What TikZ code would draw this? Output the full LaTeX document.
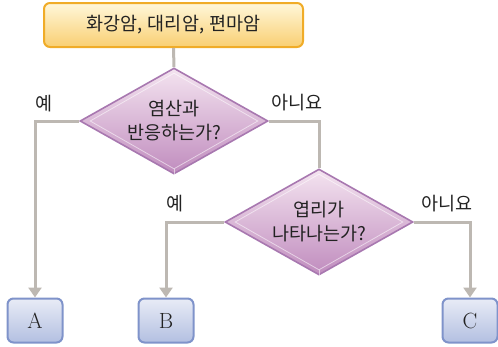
\documentclass[tikz,border=0pt]{standalone}
\usepackage{fontspec}
\newfontfamily\kr{Noto Sans CJK KR}
\usetikzlibrary{shapes.geometric,arrows.meta,calc}
\definecolor{linegray}{HTML}{BDB8B2}
\definecolor{txt}{HTML}{222222}
\definecolor{startedge}{HTML}{F0AC28}
\definecolor{starttop}{HTML}{FFF7DA}
\definecolor{startbot}{HTML}{F9CF72}
\definecolor{dedge}{HTML}{A878B0}
\definecolor{dtop}{HTML}{F4E4F0}
\definecolor{dbot}{HTML}{C08CBE}
\definecolor{redge}{HTML}{7F93CA}
\definecolor{rtop}{HTML}{E8ECF6}
\definecolor{rbot}{HTML}{B3BFE1}
\tikzset{
  krtext/.style={font=\kr\fontsize{18.5}{24}\selectfont, text=txt},
  startbox/.style={krtext, draw=startedge, line width=2pt, rounded corners=6pt,
    top color=starttop, bottom color=startbot, minimum width=259pt,
    minimum height=44pt, inner sep=0pt},
  % negative inner sep keeps the diamond at its fixed size
  decision/.style={krtext, diamond, draw=dedge, line width=1.6pt, top color=dtop,
    bottom color=dbot, minimum width=188pt, minimum height=106pt, inner sep=-14pt,
    align=center},
  bevel/.style={draw=white, opacity=0.55, line width=0.8pt},
  result/.style={draw=redge, line width=2pt, rounded corners=6pt,
    top color=rtop, bottom color=rbot, minimum width=55pt, minimum height=44pt,
    inner sep=0pt, font=\fontsize{22}{26}\selectfont, text=txt},
  flow/.style={draw=linegray, line width=3pt},
  flowarrow/.style={flow, -{Triangle[length=10pt,width=13pt,fill=linegray]}},
  answer/.style={krtext, inner sep=0pt}
}
\newcommand{\bevelin}[1]{%
  \draw[bevel] ($(#1.north)+(0,6)$) -- ($(#1.east)+(-11,0)$) -- ($(#1.south)+(0,-6)$)
    -- ($(#1.west)+(11,0)$) -- cycle;
  \draw[bevel] (#1.south) -- ($(#1.south)+(0,-6)$);
}
\begin{document}
\begin{tikzpicture}[x=1pt,y=-1pt]
  \useasboundingbox (0,0) rectangle (498,346);

  % boxes and decisions
  \node[startbox] (start) at (173.5,25) {화강암,\hspace{5pt}대리암,\hspace{5pt}편마암};
  \node[decision] (q1) at (174,121) {염산과\\반응하는가?};
  \node[decision] (q2) at (319,222) {엽리가\\나타나는가?};
  \bevelin{q1}
  \bevelin{q2}

  \node[result] (A) at (35,320.5) {A};
  \node[result] (B) at (166,320.5) {B};
  \node[result] (C) at (470,320.5) {C};

  % connectors
  \draw[flow] (start.south) -- (q1.north);
  \draw[flowarrow] (q1.west) -| (A.north);
  \draw[flow] (q1.east) -| (q2.north);
  \draw[flowarrow] (q2.west) -| (B.north);
  \draw[flowarrow] (q2.east) -| (C.north);

  % answers
  \node[answer] (y1) at (44,104) {예};
  \node[answer] (n1) at (297,103) {아니요};
  \node[answer] (y2) at (175,204) {예};
  \node[answer] (n2) at (447,204) {아니요};
\end{tikzpicture}
\end{document}
